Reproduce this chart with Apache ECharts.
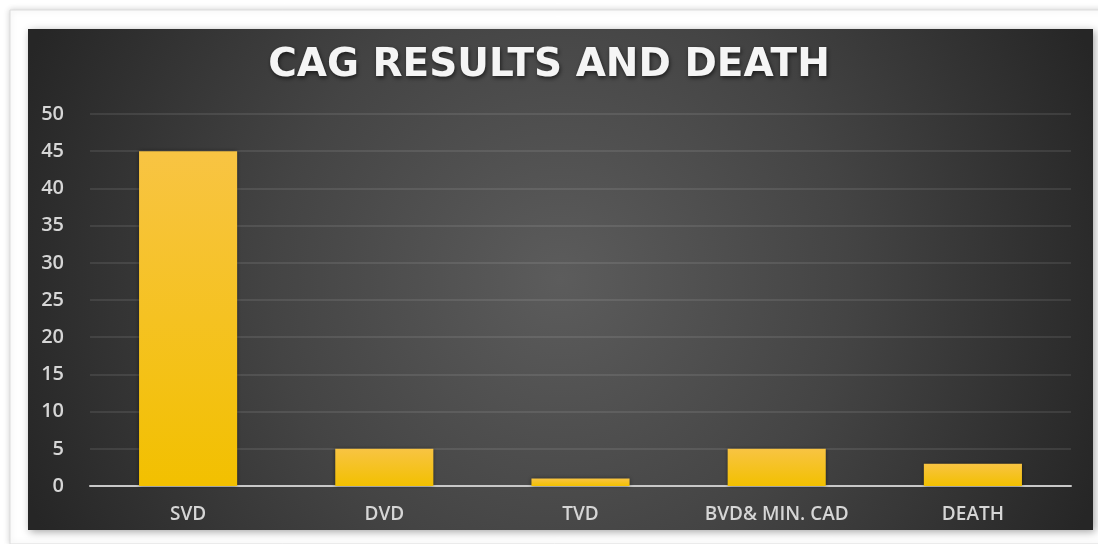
<!DOCTYPE html>
<html>
<head>
<meta charset="utf-8">
<script src="https://cdn.jsdelivr.net/npm/echarts@6/dist/echarts.min.js"></script>
<style>
  html, body { margin: 0; padding: 0; background: #ffffff; }
  #chart { width: 1098px; height: 544px; }
</style>
</head>
<body>
<div id="chart"></div>
<script>
// Coronary angiography findings and deaths
const categories = ['SVD', 'DVD', 'TVD', 'BVD& MIN. CAD', 'DEATH'];
const counts = [45, 5, 1, 5, 3];
const yTicks = { min: 0, max: 50, interval: 5 };

const chart = echarts.init(document.getElementById('chart'), null, { renderer: 'canvas' });

chart.setOption({
  backgroundColor: '#ffffff',
  animation: false,
  graphic: [
    {
      type: 'rect',
      z: -20,
      silent: true,
      shape: { x: 10, y: 10, width: 1120, height: 534 },
      style: {
        fill: '#ffffff',
        stroke: '#dcdcdc',
        lineWidth: 1,
        shadowBlur: 6,
        shadowColor: 'rgba(0,0,0,0.18)'
      }
    },
    {
      type: 'rect',
      z: -10,
      silent: true,
      shape: { x: 28, y: 29, width: 1065, height: 501 },
      style: {
        fill: {
          type: 'radial', x: 0.5, y: 0.5, r: 1.15,
          colorStops: [
            { offset: 0, color: '#5c5c5c' },
            { offset: 0.5, color: '#444444' },
            { offset: 1, color: '#262626' }
          ]
        },
        shadowBlur: 8,
        shadowOffsetX: 2,
        shadowOffsetY: 2,
        shadowColor: 'rgba(0,0,0,0.35)'
      }
    }
  ],
  title: {
    text: 'CAG RESULTS AND DEATH',
    left: 'center',
    top: 41,
    textStyle: {
      color: '#f5f5f5',
      fontFamily: 'DejaVu Sans',
      fontWeight: 'bold',
      fontSize: 39,
      textShadowColor: 'rgba(0,0,0,0.6)',
      textShadowBlur: 4,
      textShadowOffsetX: 1,
      textShadowOffsetY: 2
    }
  },
  grid: { left: 90, right: 27, top: 114, bottom: 58, containLabel: false },
  xAxis: {
    type: 'category',
    data: categories,
    axisLine: { lineStyle: { color: '#c8c8c8', width: 2 } },
    axisTick: { show: false },
    axisLabel: {
      color: '#d6d6d6',
      fontFamily: 'Open Sans',
      fontWeight: 600,
      fontSize: 19,
      margin: 19
    }
  },
  yAxis: {
    type: 'value',
    min: yTicks.min,
    max: yTicks.max,
    interval: yTicks.interval,
    axisLine: { show: false },
    axisTick: { show: false },
    splitLine: { lineStyle: { color: 'rgba(255,255,255,0.12)', width: 1.5 } },
    axisLabel: {
      color: '#d6d6d6',
      fontFamily: 'Open Sans',
      fontWeight: 600,
      fontSize: 20,
      margin: 26
    }
  },
  series: [{
    type: 'bar',
    data: counts,
    barWidth: '50%',
    itemStyle: {
      color: {
        type: 'linear', x: 0, y: 0, x2: 0, y2: 1,
        colorStops: [
          { offset: 0, color: '#f8c443' },
          { offset: 1, color: '#f2c000' }
        ]
      },
      shadowBlur: 4,
      shadowColor: 'rgba(0,0,0,0.45)'
    }
  }]
});
</script>
</body>
</html>
